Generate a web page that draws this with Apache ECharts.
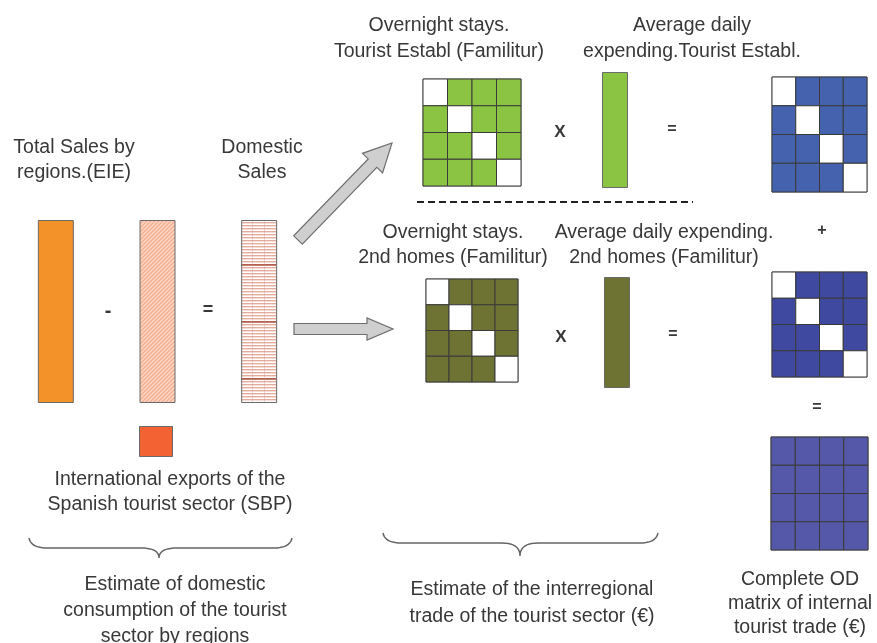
<!DOCTYPE html>
<html>
<head>
<meta charset="utf-8">
<script src="https://cdn.jsdelivr.net/npm/echarts@6/dist/echarts.min.js"></script>
<style>
html,body{margin:0;padding:0;background:#fff;}
#chart{width:877px;height:643px;}
</style>
</head>
<body>
<div id="chart"></div>
<script>
// ---------- DATA ----------
const regions = ['R1', 'R2', 'R3', 'R4'];
// 1 = interregional flow cell, 0 = intraregional (diagonal, excluded)
const estabStaysMatrix = [[0,1,1,1],[1,0,1,1],[1,1,0,1],[1,1,1,0]];
const homesStaysMatrix = [[0,1,1,1],[1,0,1,1],[1,1,0,1],[1,1,1,0]];
const estabTradeMatrix = [[0,1,1,1],[1,0,1,1],[1,1,0,1],[1,1,1,0]];
const homesTradeMatrix = [[0,1,1,1],[1,0,1,1],[1,1,0,1],[1,1,1,0]];
const completeODMatrix = [[1,1,1,1],[1,1,1,1],[1,1,1,1],[1,1,1,1]];
const salesCategories = ['Total sales (EIE)', 'Exports share', 'Domestic sales'];
const salesValues = [100, 100, 100];
const sbpCategories = ['International exports (SBP)'];
const sbpValues = [1];
const expendEstabCategories = ['Expending tourist establ.'];
const expendEstabValues = [1];
const expendHomesCategories = ['Expending 2nd homes'];
const expendHomesValues = [1];

// ---------- HELPERS ----------
function toCells(m) {
  const out = [];
  m.forEach((row, r) => row.forEach((v, c) => out.push([c, r, v])));
  return out;
}
function makePattern(w, h, draw) {
  const cv = document.createElement('canvas');
  cv.width = w; cv.height = h;
  draw(cv.getContext('2d'), w, h);
  return { image: cv, repeat: 'repeat' };
}
const hatchPattern = makePattern(4, 4, (ctx, w, h) => {
  ctx.fillStyle = '#FBD3C0'; ctx.fillRect(0, 0, w, h);
  ctx.strokeStyle = '#F2A889'; ctx.lineWidth = 1.1;
  ctx.beginPath();
  ctx.moveTo(-1, h + 1); ctx.lineTo(w + 1, -1);
  ctx.moveTo(-1, 1); ctx.lineTo(1, -1);
  ctx.moveTo(w - 1, h + 1); ctx.lineTo(w + 1, h - 1);
  ctx.stroke();
});
const stripePattern = makePattern(12, 57, (ctx, w, h) => {
  ctx.fillStyle = '#FFFFFF'; ctx.fillRect(0, 0, w, h);
  for (let y = 0; y < h; y += 3) {
    ctx.fillStyle = (y === 36) ? '#B4604C' : '#E4AC9C';
    ctx.fillRect(0, y, w, (y === 36) ? 1.8 : 1.4);
  }
  ctx.fillStyle = 'rgba(200,150,140,0.35)';
  ctx.fillRect(0, 0, 1, h);
});

const FONT = '"Liberation Sans", Arial, sans-serif';
const TXT = '#383838';

function matrixGrid(left, top, width, height) {
  return { left, top, width, height, show: true, borderColor: '#777', borderWidth: 1, backgroundColor: 'transparent', containLabel: false };
}
function matrixSeries(idx, matrix, color) {
  return {
    type: 'custom', xAxisIndex: idx, yAxisIndex: idx,
    data: toCells(matrix),
    renderItem: function (params, api) {
      const c = api.coord([api.value(0), api.value(1)]);
      const s = api.size([1, 1]);
      const filled = api.value(2) === 1;
      return {
        type: 'rect',
        shape: { x: c[0] - s[0] / 2, y: c[1] - s[1] / 2, width: s[0], height: s[1] },
        style: { fill: filled ? color : '#FFFFFF', stroke: '#3a3a3a', lineWidth: 1 }
      };
    }
  };
}

const grids = [
  { left: 5, top: 220, width: 305, height: 183 },          // 0 sales bars
  { left: 139, top: 426, width: 34, height: 31 },          // 1 SBP
  matrixGrid(423, 79, 98, 107),                            // 2 green matrix
  { left: 602, top: 72, width: 26, height: 116 },          // 3 green bar
  matrixGrid(772, 77, 95, 115),                            // 4 blue matrix 1
  matrixGrid(426, 279, 92, 103),                           // 5 olive matrix
  { left: 604, top: 277, width: 26, height: 111 },         // 6 olive bar
  matrixGrid(772, 272, 95, 105),                           // 7 blue matrix 2
  matrixGrid(771, 437, 97, 113)                            // 8 purple matrix
];
const xAxes = [], yAxes = [];
const catX = [salesCategories, sbpCategories, regions, expendEstabCategories, regions, regions, expendHomesCategories, regions, regions];
const isMatrix = [false, false, true, false, true, true, false, true, true];
const maxVal = [100, 1, 0, 1, 0, 0, 1, 0, 0];
grids.forEach((g, i) => {
  xAxes.push({ type: 'category', gridIndex: i, data: catX[i], show: false });
  if (isMatrix[i]) {
    yAxes.push({ type: 'category', gridIndex: i, data: regions, inverse: true, show: false });
  } else {
    yAxes.push({ type: 'value', gridIndex: i, min: 0, max: maxVal[i], show: false });
  }
});

const barBorder = { borderColor: '#6a6a6a', borderWidth: 1 };
const series = [
  {
    type: 'bar', xAxisIndex: 0, yAxisIndex: 0, barWidth: 36, silent: true,
    data: salesValues.map((v, i) => ({
      value: v,
      itemStyle: Object.assign({ color: [ '#F39229', hatchPattern, stripePattern ][i] }, barBorder)
    }))
  },
  { type: 'bar', xAxisIndex: 1, yAxisIndex: 1, barWidth: '100%', silent: true,
    data: sbpValues, itemStyle: Object.assign({ color: '#F26232' }, barBorder) },
  matrixSeries(2, estabStaysMatrix, '#8AC442'),
  { type: 'bar', xAxisIndex: 3, yAxisIndex: 3, barWidth: '100%', silent: true,
    data: expendEstabValues, itemStyle: Object.assign({ color: '#8AC442' }, barBorder) },
  matrixSeries(4, estabTradeMatrix, '#4462AE'),
  matrixSeries(5, homesStaysMatrix, '#6E7232'),
  { type: 'bar', xAxisIndex: 6, yAxisIndex: 6, barWidth: '100%', silent: true,
    data: expendHomesValues, itemStyle: Object.assign({ color: '#6E7232' }, barBorder) },
  matrixSeries(7, homesTradeMatrix, '#3F49A0'),
  matrixSeries(8, completeODMatrix, '#5558A8')
];

// ---------- GRAPHIC DECORATION ----------
function txt(x, y, text, lh, size, bold) {
  return {
    type: 'text', x: x, y: y, z: 10,
    style: {
      text: text, fill: TXT, align: 'center', verticalAlign: 'middle',
      fontFamily: FONT, fontSize: size || 19.5, fontWeight: bold ? 'bold' : 'normal',
      lineHeight: lh || 25
    }
  };
}
function arrowPoly(x1, y1, x2, y2, sw, hw, hl) {
  const dx = x2 - x1, dy = y2 - y1, L = Math.sqrt(dx * dx + dy * dy);
  const ux = dx / L, uy = dy / L, nx = -uy, ny = ux;
  const bx = x2 - ux * hl, by = y2 - uy * hl;
  return {
    type: 'polygon', z: 5,
    shape: { points: [
      [x1 + nx * sw, y1 + ny * sw], [bx + nx * sw, by + ny * sw], [bx + nx * hw, by + ny * hw],
      [x2, y2], [bx - nx * hw, by - ny * hw], [bx - nx * sw, by - ny * sw], [x1 - nx * sw, y1 - ny * sw]
    ] },
    style: { fill: '#CFCFCF', stroke: '#6e6e6e', lineWidth: 1.2 }
  };
}
function quad(p0, p1, p2, n) {
  const pts = [];
  for (let i = 0; i <= n; i++) {
    const t = i / n, a = (1 - t) * (1 - t), b = 2 * (1 - t) * t, c = t * t;
    pts.push([a * p0[0] + b * p1[0] + c * p2[0], a * p0[1] + b * p1[1] + c * p2[1]]);
  }
  return pts;
}
function brace(x1, x2, xc, y0, y1, y2) {
  const r = 18;
  const pts = [].concat(
    quad([x1, y0], [x1 + 2, y1], [x1 + r, y1], 10),
    quad([xc - r, y1], [xc, y1], [xc, y2], 10),
    quad([xc, y2], [xc, y1], [xc + r, y1], 10),
    quad([x2 - r, y1], [x2 - 2, y1], [x2, y0], 10)
  );
  return {
    type: 'polyline', z: 5,
    shape: { points: pts },
    style: { fill: null, stroke: '#666', lineWidth: 1.5 }
  };
}

const graphic = [
  txt(74, 160.5, 'Total Sales by\nregions.(EIE)'),
  txt(262, 160.5, 'Domestic\nSales'),
  txt(439, 39, 'Overnight stays.\nTourist Establ (Familitur)', 26),
  txt(692, 39, 'Average daily\nexpending.Tourist Establ.', 26),
  txt(453, 245.5, 'Overnight stays.\n2nd homes (Familitur)'),
  txt(664, 245.5, 'Average daily expending.\n2nd homes (Familitur)'),
  txt(170, 492.5, 'International exports of the\nSpanish tourist sector (SBP)'),
  txt(175, 611, 'Estimate of domestic\nconsumption of the tourist\nsector by regions', 26),
  txt(532, 603.5, 'Estimate of the interregional\ntrade of the tourist sector (€)', 27),
  txt(800, 604, 'Complete OD\nmatrix of internal\ntourist trade (€)', 24),
  // operators
  txt(108, 311, '-', 20, 20, true),
  txt(208, 310, '=', 20, 18, true),
  txt(560, 132, 'X', 20, 17, true),
  txt(561, 337, 'X', 20, 17, true),
  txt(672, 130, '=', 20, 16, true),
  txt(673, 335, '=', 20, 16, true),
  txt(822, 231, '+', 20, 16, true),
  txt(817, 408, '=', 20, 16, true),
  // arrows
  arrowPoly(298, 240, 392, 143, 6, 14, 28),
  arrowPoly(294, 329, 393, 329, 5.5, 11, 26),
  // dashed separator
  { type: 'line', z: 5, shape: { x1: 417, y1: 202, x2: 693, y2: 202 },
    style: { stroke: '#222', lineWidth: 2, lineDash: [7, 4] } },
  // braces
  brace(29, 292, 159, 538, 548, 558),
  brace(383, 658, 520, 533, 543, 556)
];

const chart = echarts.init(document.getElementById('chart'), null, { renderer: 'canvas' });
chart.setOption({
  animation: false,
  backgroundColor: '#FFFFFF',
  grid: grids,
  xAxis: xAxes,
  yAxis: yAxes,
  series: series,
  graphic: graphic
});
</script>
</body>
</html>
